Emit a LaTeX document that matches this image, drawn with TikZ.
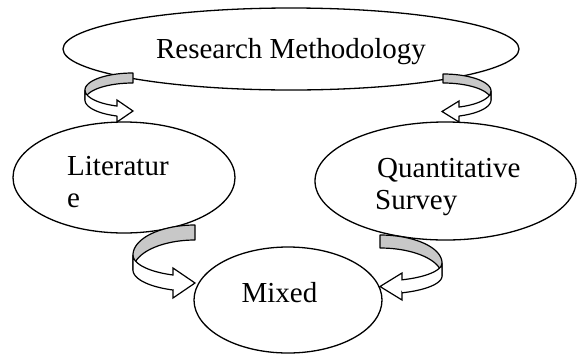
\documentclass[tikz,border=0pt]{standalone}
\usepackage{fontspec}
\setmainfont{Liberation Serif}
\usetikzlibrary{shapes.geometric}
\definecolor{backgray}{RGB}{200,200,200}
\tikzset{
  bubble/.style={ellipse, draw=black, line width=1.3pt, inner sep=0pt},
  label/.style={inner sep=0pt, font=\fontsize{29}{34}\selectfont},
  ribbonback/.style={fill=backgray, draw=black, line width=1.2pt, line join=round},
  ribbonfront/.style={fill=white, draw=black, line width=1.2pt, line join=miter}
}
\begin{document}
\begin{tikzpicture}[x=1pt, y=-1pt]
\useasboundingbox (0,0) rectangle (577,354);
\fill[white] (0,0) rectangle (577,354);

% ellipses
\node[bubble, minimum width=456pt, minimum height=82pt] (rm) at (291,49) {};
\node[bubble, minimum width=222pt, minimum height=111pt] (lit) at (124,177.5) {};
\node[bubble, minimum width=261pt, minimum height=118pt] (qs) at (445.5,181) {};
\node[bubble, minimum width=188pt, minimum height=106pt] (mix) at (288,300) {};

% texts
\node[label, anchor=base] (rmt) at (291,58) {Research Methodology};
\node[label, anchor=base west] (lit1) at (67,175) {Literatur};
\node[label, anchor=base west] (lit2) at (67,207) {e};
\node[label, anchor=base west] (qs1) at (377,177) {Quantitative};
\node[label, anchor=base west] (qs2) at (375,209) {Survey};
\node[label, anchor=base] (mixt) at (279.5,302) {Mixed};

% A1: Research Methodology -> Literature (loop on left, points right)
\path[ribbonback] plot[domain=270:180, samples=30] ({133+48*cos(\x)},{90+17*sin(\x)})
  -- plot[domain=180:270, samples=30] ({133+48*cos(\x)},{100+17*sin(\x)}) -- cycle;
\path[ribbonfront] plot[domain=180:109.47, samples=30] ({133+48*cos(\x)},{90+17*sin(\x)})
  -- (117,100) -- (133,111) -- (117,122) -- (117,116)
  -- plot[domain=109.47:180, samples=30] ({133+48*cos(\x)},{100+17*sin(\x)}) -- cycle;

% A2: Research Methodology -> Quantitative Survey (loop on right, points left)
\path[ribbonback] plot[domain=270:360, samples=30] ({443+48*cos(\x)},{91+17*sin(\x)})
  -- plot[domain=360:270, samples=30] ({443+48*cos(\x)},{100+17*sin(\x)}) -- cycle;
\path[ribbonfront] plot[domain=0:70.53, samples=30] ({443+48*cos(\x)},{91+17*sin(\x)})
  -- (459,101) -- (442,111.5) -- (459,122) -- (459,116)
  -- plot[domain=70.53:0, samples=30] ({443+48*cos(\x)},{100+17*sin(\x)}) -- cycle;

% A3: Literature -> Mixed (loop on left, points right)
\path[ribbonback] plot[domain=270:180, samples=30] ({195+62*cos(\x)},{255+30*sin(\x)})
  -- plot[domain=180:270, samples=30] ({195+62*cos(\x)},{270+30*sin(\x)}) -- cycle;
\path[ribbonfront] plot[domain=180:110.8, samples=30] ({195+62*cos(\x)},{255+21.4*sin(\x)})
  -- (173,268) -- (195,283) -- (173,298) -- (173,290)
  -- plot[domain=110.8:180, samples=30] ({195+62*cos(\x)},{270+21.4*sin(\x)}) -- cycle;

% A4: Quantitative Survey -> Mixed (loop on right, points left)
\path[ribbonback] plot[domain=270:360, samples=30] ({380+62*cos(\x)},{263+28*sin(\x)})
  -- plot[domain=360:270, samples=30] ({380+62*cos(\x)},{276+28*sin(\x)}) -- cycle;
\path[ribbonfront] plot[domain=0:69.2, samples=30] ({380+62*cos(\x)},{263+18*sin(\x)})
  -- (402,273) -- (380,286.5) -- (402,300) -- (402,292.8)
  -- plot[domain=69.2:0, samples=30] ({380+62*cos(\x)},{276+18*sin(\x)}) -- cycle;
\end{tikzpicture}
\end{document}
